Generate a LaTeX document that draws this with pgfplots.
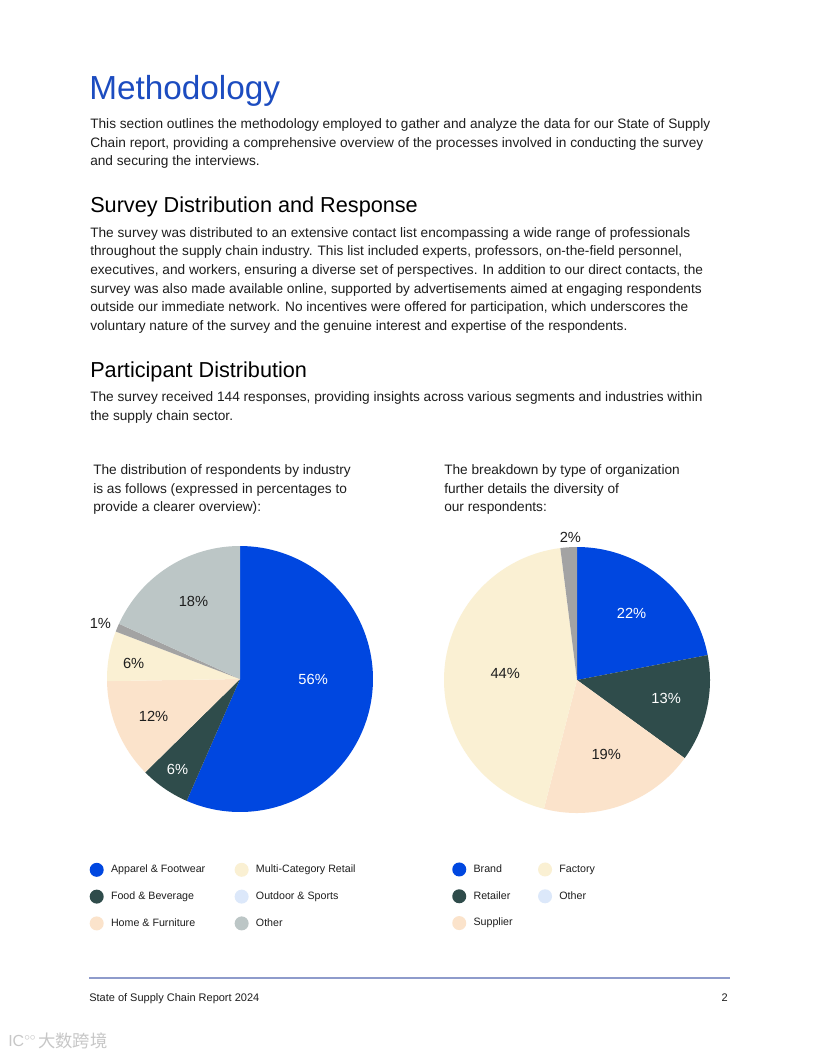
\documentclass[border=0pt]{standalone}
\usepackage{pgfplots}
\usepackage{pgfplotstable}
\pgfplotsset{compat=1.18}
\usepackage{fontspec}
\setmainfont{Liberation Sans}
\newfontfamily\cjk{Noto Sans CJK SC}

\definecolor{cblue}{HTML}{0047E0}
\definecolor{cgreen}{HTML}{2F4C4B}
\definecolor{cpeach}{HTML}{FBE3CB}
\definecolor{ccream}{HTML}{FAF0D3}
\definecolor{csliver}{HTML}{A3A3A3}
\definecolor{csage}{HTML}{BCC6C6}
\definecolor{csky}{HTML}{DCE8FA}
\definecolor{titleblue}{HTML}{1C4CC0}
\definecolor{bodytext}{HTML}{1E1E1E}
\definecolor{rulecol}{HTML}{8E9BCB}

% respondents by industry (percent)
\pgfplotstableread{
item value col
Apparel 56 cblue
Food 6 cgreen
Home 12 cpeach
Multi 6 ccream
Outdoor 1 csliver
Other 18 csage
}\industry

% respondents by type of organization (percent)
\pgfplotstableread{
item value col
Brand 22 cblue
Retailer 13 cgreen
Supplier 19 cpeach
Factory 44 ccream
Other 2 csliver
}\orgtype

% slices clockwise from 12 o'clock
\newcommand\drawpie[1]{%
  \pgfplotstablegetrowsof{#1}\pgfmathtruncatemacro\nrows{\pgfplotsretval-1}%
  \gdef\pietot{0}%
  \pgfplotsforeachungrouped \i in {0,...,\nrows}{%
    \pgfplotstablegetelem{\i}{value}\of{#1}%
    \pgfmathsetmacro\tmp{\pietot+\pgfplotsretval}\xdef\pietot{\tmp}}%
  \gdef\piecum{0}%
  \pgfplotsforeachungrouped \i in {0,...,\nrows}{%
    \pgfplotstablegetelem{\i}{value}\of{#1}\let\sliceval\pgfplotsretval
    \pgfplotstablegetelem{\i}{col}\of{#1}\let\slicecol\pgfplotsretval
    \pgfmathsetmacro\pa{90-(\piecum/\pietot)*360}%
    \pgfmathsetmacro\tmp{\piecum+\sliceval}\xdef\piecum{\tmp}%
    \pgfmathsetmacro\pb{90-(\piecum/\pietot)*360}%
    \edef\doslice{\noexpand\addplot[forget plot, draw=none, fill=\slicecol, domain=\pb:\pa, samples=90] ({cos(x)},{sin(x)}) -- (axis cs:0,0) -- cycle;}%
    \doslice}}

\pgfplotsset{
  piestyle/.style={
    hide axis, clip=false, anchor=center,
    x=99.75pt, y=99.75pt, xmin=-1, xmax=1, ymin=-1, ymax=1,
    legend columns=2,
    legend cell align=left,
    legend image code/.code={\fill[##1, draw=none] (5.25pt,0pt) circle (5.25pt);},
    legend style={draw=none, fill=none, inner sep=0pt, anchor=north west,
      font=\fontsize{8}{9.6}\selectfont, text=bodytext,
      nodes={inner sep=0pt}, row sep=9.6pt,
      /tikz/every odd column/.style={column sep=5.5pt}},
  },
}

\begin{document}
\begin{tikzpicture}
\begin{scope}[x=0.75pt,y=-0.75pt]
\useasboundingbox (0,0) rectangle (816,1056);
\fill[white] (0,0) rectangle (816,1056);

\tikzset{txt/.style={anchor=base west, inner sep=0pt, text=bodytext,
  font=\fontsize{10.25}{11}\selectfont}}

\node[anchor=base west, inner sep=0pt, text=titleblue, font=\fontsize{25}{28}\selectfont] at (89,99) {Methodology};
\node[txt] at (90,128) {This section outlines the methodology employed to gather and analyze the data for our State of Supply};
\node[txt] at (90,147) {Chain report, providing a comprehensive overview of the processes involved in conducting the survey};
\node[txt] at (90,165) {and securing the interviews.};

\node[anchor=base west, inner sep=0pt, text=black, font=\fontsize{16.25}{19}\selectfont] at (90,212) {Survey Distribution and Response};
\node[txt] at (90,237) {The survey was distributed to an extensive contact list encompassing a wide range of professionals};
\node[txt] at (90,255) {throughout the supply chain industry. This list included experts, professors, on-the-field personnel,};
\node[txt] at (90,274) {executives, and workers, ensuring a diverse set of perspectives. In addition to our direct contacts, the};
\node[txt] at (90,293) {survey was also made available online, supported by advertisements aimed at engaging respondents};
\node[txt] at (90,311) {outside our immediate network. No incentives were offered for participation, which underscores the};
\node[txt] at (90,330) {voluntary nature of the survey and the genuine interest and expertise of the respondents.};

\node[anchor=base west, inner sep=0pt, text=black, font=\fontsize{16.25}{19}\selectfont] at (90,377) {Participant Distribution};
\node[txt] at (90,401) {The survey received 144 responses, providing insights across various segments and industries within};
\node[txt] at (90,420) {the supply chain sector.};

\node[txt] at (93,474) {The distribution of respondents by industry};
\node[txt] at (93,493) {is as follows (expressed in percentages to};
\node[txt] at (93,511) {provide a clearer overview):};
\node[txt] at (444,474) {The breakdown by type of organization};
\node[txt] at (444,493) {further details the diversity of};
\node[txt] at (444,511) {our respondents:};

\draw[rulecol, line width=1.5pt] (89,978) -- (730,978);
\node[anchor=base west, inner sep=0pt, text=bodytext, font=\fontsize{8.25}{9}\selectfont] at (89,1001) {State of Supply Chain Report 2024};
\node[anchor=base east, inner sep=0pt, text=bodytext, font=\fontsize{8.25}{9}\selectfont] at (728,1001) {2};
\node[anchor=base west, inner sep=0pt, text=black!22, font=\cjk\fontsize{13}{14}\selectfont] at (38,1047) {大数跨境};
\node[anchor=base west, inner sep=0pt, text=black!22, font=\fontsize{12}{13}\selectfont] at (8,1046) {IC$^{\circ\circ}$};
\end{scope}

% industry pie
\begin{axis}[piestyle, at={(180pt,-509.25pt)},
  legend style={at={(-0.066,-0.19)},
    /tikz/every even column/.style={column sep=22pt}}]
  \drawpie{\industry}
  \addlegendimage{fill=cblue}\addlegendentry{Apparel \& Footwear}
  \addlegendimage{fill=ccream}\addlegendentry{Multi-Category Retail}
  \addlegendimage{fill=cgreen}\addlegendentry{Food \& Beverage}
  \addlegendimage{fill=csky}\addlegendentry{Outdoor \& Sports}
  \addlegendimage{fill=cpeach}\addlegendentry{Home \& Furniture}
  \addlegendimage{fill=csage}\addlegendentry{Other}
  \node[text=white, font=\fontsize{11}{12}\selectfont] at (axis cs:0.55,0) {56\%};
  \node[text=white, font=\fontsize{11}{12}\selectfont] at (axis cs:-0.47,-0.68) {6\%};
  \node[text=bodytext, font=\fontsize{11}{12}\selectfont] at (axis cs:-0.65,-0.28) {12\%};
  \node[text=bodytext, font=\fontsize{11}{12}\selectfont] at (axis cs:-0.80,0.12) {6\%};
  \node[text=bodytext, font=\fontsize{11}{12}\selectfont] at (axis cs:-1.05,0.42) {1\%};
  \node[text=bodytext, font=\fontsize{11}{12}\selectfont] at (axis cs:-0.35,0.58) {18\%};
\end{axis}

% organization type pie
\begin{axis}[piestyle, at={(432.75pt,-510pt)},
  legend style={at={(0.03,-0.185)},
    /tikz/every even column/.style={column sep=19pt}}]
  \drawpie{\orgtype}
  \addlegendimage{fill=cblue}\addlegendentry{Brand}
  \addlegendimage{fill=ccream}\addlegendentry{Factory}
  \addlegendimage{fill=cgreen}\addlegendentry{Retailer}
  \addlegendimage{fill=csky}\addlegendentry{Other}
  \addlegendimage{fill=cpeach}\addlegendentry{Supplier}
  \node[text=white, font=\fontsize{11}{12}\selectfont] at (axis cs:0.41,0.50) {22\%};
  \node[text=white, font=\fontsize{11}{12}\selectfont] at (axis cs:0.67,-0.14) {13\%};
  \node[text=bodytext, font=\fontsize{11}{12}\selectfont] at (axis cs:0.22,-0.56) {19\%};
  \node[text=bodytext, font=\fontsize{11}{12}\selectfont] at (axis cs:-0.54,0.05) {44\%};
  \node[text=bodytext, font=\fontsize{11}{12}\selectfont] at (axis cs:-0.05,1.07) {2\%};
\end{axis}
\end{tikzpicture}
\end{document}
